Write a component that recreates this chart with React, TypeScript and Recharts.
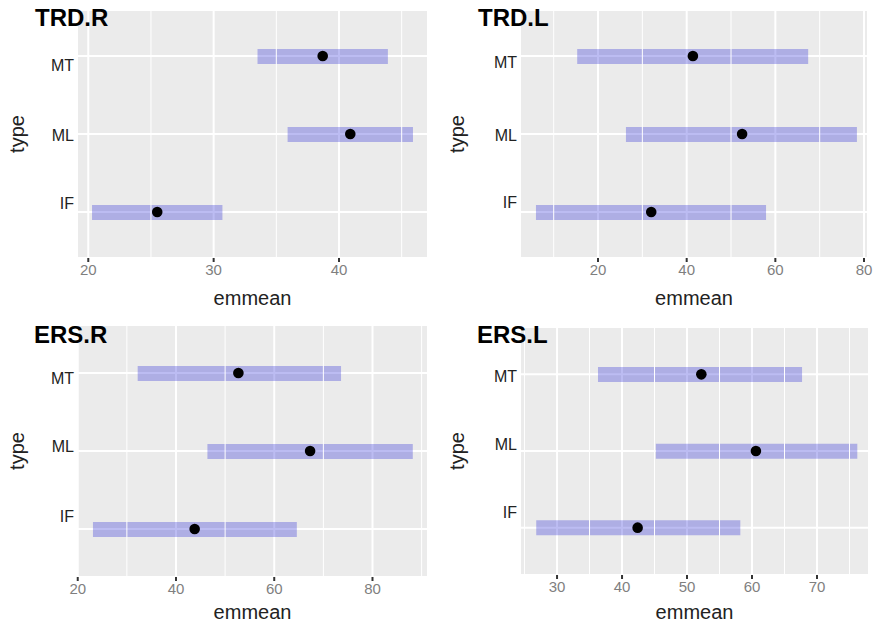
import {
  Bar,
  CartesianGrid,
  ComposedChart,
  Line,
  ReferenceLine,
  XAxis,
  YAxis,
} from "recharts";

const FONT = '"Liberation Sans", Arial, Helvetica, sans-serif';

// categories, top to bottom
const types = ["MT", "ML", "IF"];

// TRD.R
const trdRMean = [38.7, 40.9, 25.5];
const trdRLow = [33.5, 35.9, 20.3];
const trdRHigh = [43.9, 45.9, 30.7];
const trdRTicks = [20, 30, 40];
const trdRMinor = [25, 35, 45];
const trdRDomain = [19.1, 47.1];

// TRD.L
const trdLMean = [41.4, 52.5, 32.0];
const trdLLow = [15.3, 26.3, 6.0];
const trdLHigh = [67.4, 78.4, 57.9];
const trdLTicks = [20, 40, 60, 80];
const trdLMinor = [10, 30, 50, 70];
const trdLDomain = [2.4, 80.9];

// ERS.R
const ersRMean = [52.7, 67.3, 43.8];
const ersRLow = [32.2, 46.4, 23.1];
const ersRHigh = [73.6, 88.2, 64.6];
const ersRTicks = [20, 40, 60, 80];
const ersRMinor = [30, 50, 70, 90];
const ersRDomain = [19.85, 91.3];

// ERS.L
const ersLMean = [52.2, 60.6, 42.4];
const ersLLow = [36.3, 45.2, 26.8];
const ersLHigh = [67.7, 76.2, 58.2];
const ersLTicks = [30, 40, 50, 60, 70];
const ersLMinor = [25, 35, 45, 55, 65, 75];
const ersLDomain = [24.3, 78.0];

type PanelProps = {
  title: string;
  mean: number[];
  low: number[];
  high: number[];
  ticks: number[];
  minor: number[];
  domain: number[];
  left: number;
  top: number;
  width: number;
  height: number;
  plotLeft: number;
  plotRight: number;
  plotTop: number;
  plotBottom: number;
  bandPad: number;
  labelShift: number[];
  titleLeft: number;
  titleTop: number;
};

function YTick(props: any) {
  const { x, y, payload, shifts } = props;
  const i = types.indexOf(payload.value);
  return (
    <text
      x={x}
      y={y + (shifts[i] || 0)}
      textAnchor="end"
      dominantBaseline="central"
      fill="#222"
      fontSize={16}
      fontFamily={FONT}
    >
      {payload.value}
    </text>
  );
}

function Panel(p: PanelProps) {
  const data = types.map((t, i) => ({
    type: t,
    ci: [p.low[i], p.high[i]],
    mean: p.mean[i],
  }));
  const xAxisHeight = p.height - p.plotBottom;
  return (
    <div style={{ position: "absolute", left: p.left, top: p.top, width: p.width, height: p.height }}>
      <ComposedChart
        width={p.width}
        height={p.height}
        data={data}
        layout="vertical"
        margin={{ top: p.plotTop, right: p.width - p.plotRight, bottom: 0, left: 0 }}
      >
        <CartesianGrid fill="#EBEBEB" stroke="#FFFFFF" strokeWidth={2} />
        {p.minor.map((v) => (
          <ReferenceLine key={v} x={v} stroke="#FFFFFF" strokeWidth={1} ifOverflow="hidden" />
        ))}
        <XAxis
          type="number"
          domain={p.domain}
          ticks={p.ticks}
          allowDataOverflow
          height={xAxisHeight}
          axisLine={false}
          tickSize={4}
          tickMargin={2}
          tickLine={{ stroke: "#333", strokeWidth: 2 }}
          tick={{ fill: "#7f7f7f", fontSize: 15, fontFamily: FONT }}
          label={{
            value: "emmean",
            position: "insideBottom",
            offset: 5,
            style: { fill: "#222", fontSize: 20, fontFamily: FONT },
          }}
        />
        <YAxis
          type="category"
          dataKey="type"
          width={p.plotLeft}
          axisLine={false}
          tickLine={false}
          tickSize={0}
          tickMargin={3}
          padding={{ top: p.bandPad, bottom: p.bandPad }}
          tick={<YTick shifts={p.labelShift} />}
          label={{
            value: "type",
            angle: -90,
            position: "insideLeft",
            offset: 17,
            style: { textAnchor: "middle", fill: "#222", fontSize: 20, fontFamily: FONT },
          }}
        />
        <Bar dataKey="ci" barSize={15} fill="#2020D3" fillOpacity={0.3} isAnimationActive={false} />
        <Line
          dataKey="mean"
          stroke="none"
          dot={{ r: 5.3, fill: "#000", stroke: "none" }}
          activeDot={false}
          isAnimationActive={false}
        />
      </ComposedChart>
      <div
        style={{
          position: "absolute",
          left: p.titleLeft,
          top: p.titleTop,
          fontFamily: FONT,
          fontWeight: "bold",
          fontSize: 24,
          lineHeight: "24px",
          color: "#000",
          whiteSpace: "nowrap",
        }}
      >
        {p.title}
      </div>
    </div>
  );
}

export default function App() {
  return (
    <div style={{ position: "absolute", left: 0, top: 0, width: 875, height: 624, background: "#fff" }}>
      <Panel
        title="TRD.R"
        mean={trdRMean}
        low={trdRLow}
        high={trdRHigh}
        ticks={trdRTicks}
        minor={trdRMinor}
        domain={trdRDomain}
        left={0}
        top={0}
        width={440}
        height={310}
        plotLeft={77}
        plotRight={428}
        plotTop={10}
        plotBottom={258}
        bandPad={7}
        labelShift={[9, 1, -9]}
        titleLeft={35}
        titleTop={6}
      />
      <Panel
        title="TRD.L"
        mean={trdLMean}
        low={trdLLow}
        high={trdLHigh}
        ticks={trdLTicks}
        minor={trdLMinor}
        domain={trdLDomain}
        left={440}
        top={0}
        width={435}
        height={310}
        plotLeft={80}
        plotRight={428}
        plotTop={10}
        plotBottom={258}
        bandPad={7}
        labelShift={[6, 1, -10]}
        titleLeft={38}
        titleTop={6}
      />
      <Panel
        title="ERS.R"
        mean={ersRMean}
        low={ersRLow}
        high={ersRHigh}
        ticks={ersRTicks}
        minor={ersRMinor}
        domain={ersRDomain}
        left={0}
        top={310}
        width={440}
        height={314}
        plotLeft={77}
        plotRight={428}
        plotTop={15}
        plotBottom={267}
        bandPad={9}
        labelShift={[5, -5, -13]}
        titleLeft={34}
        titleTop={13}
      />
      <Panel
        title="ERS.L"
        mean={ersLMean}
        low={ersLLow}
        high={ersLHigh}
        ticks={ersLTicks}
        minor={ersLMinor}
        domain={ersLDomain}
        left={440}
        top={310}
        width={435}
        height={314}
        plotLeft={80}
        plotRight={429}
        plotTop={17}
        plotBottom={265}
        bandPad={9}
        labelShift={[2, -7, -15]}
        titleLeft={37}
        titleTop={13}
      />
    </div>
  );
}
